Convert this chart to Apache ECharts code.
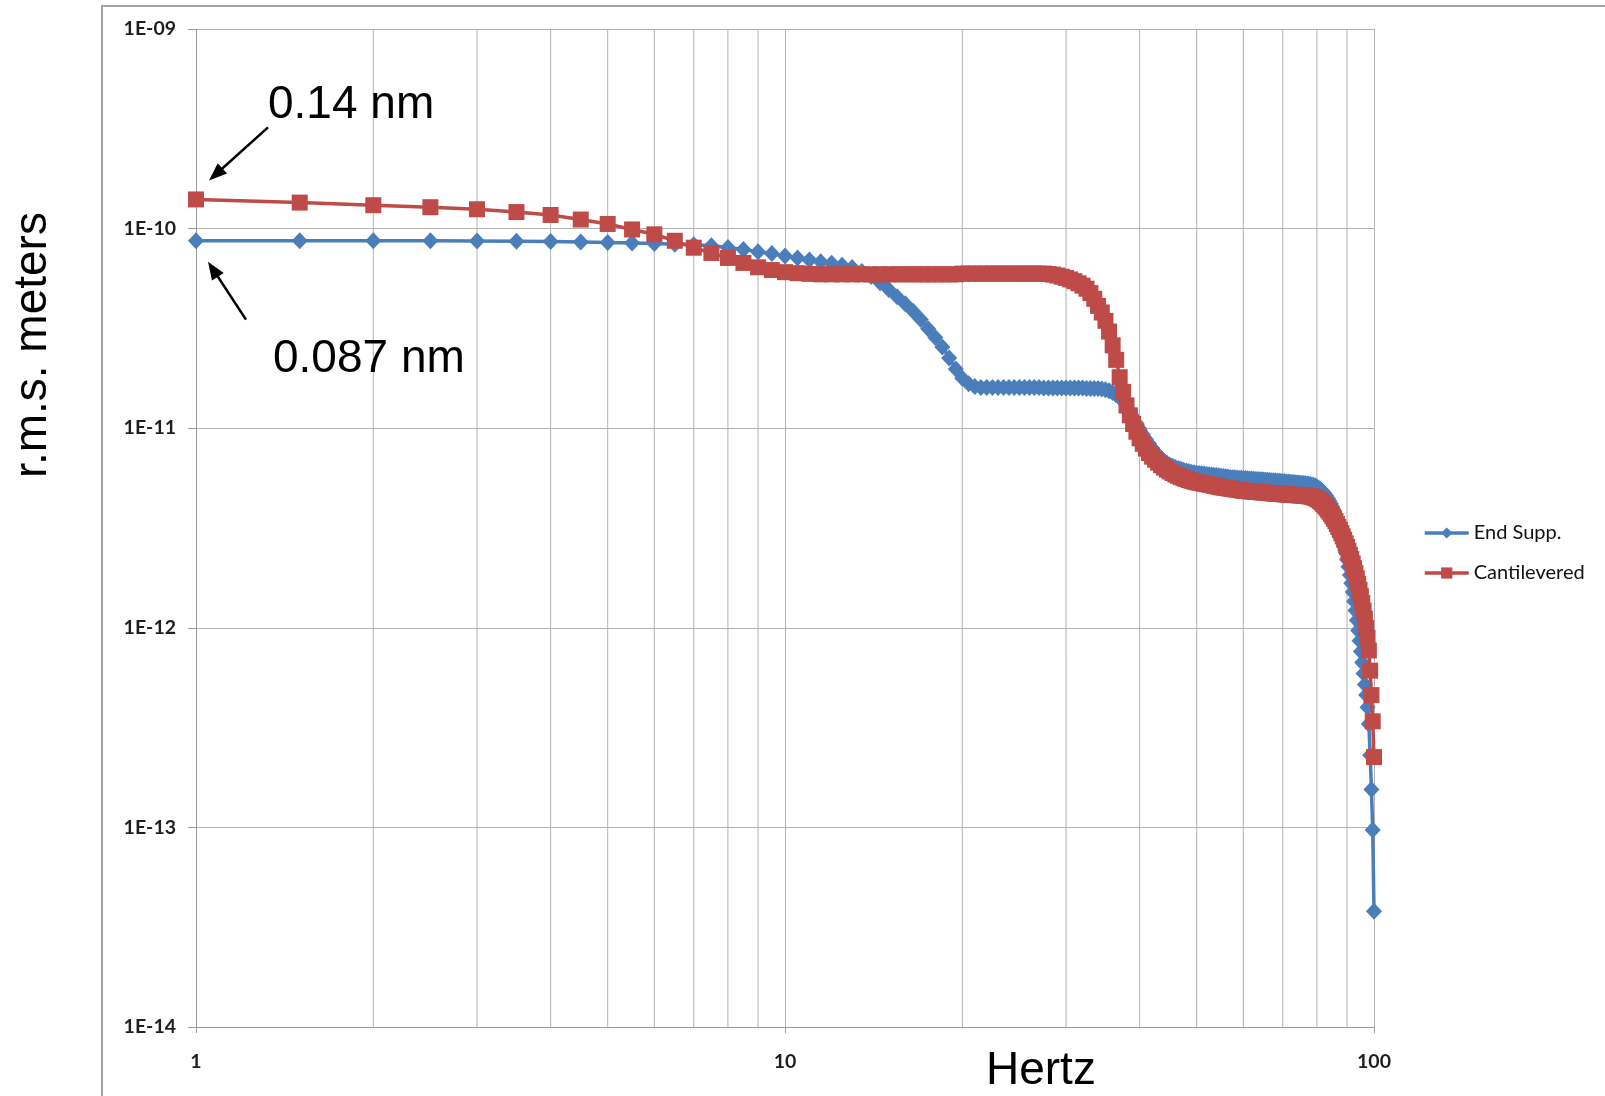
<!DOCTYPE html>
<html>
<head>
<meta charset="utf-8">
<title>r.m.s. displacement vs frequency</title>
<script src="https://cdn.jsdelivr.net/npm/echarts@6/dist/echarts.min.js"></script>
<style>
  html, body { margin: 0; padding: 0; background: #ffffff; }
  #chart { width: 1605px; height: 1096px; }
</style>
</head>
<body>
<div id="chart"></div>
<script>
// Frequency steps (Hz)
const hertz = [
  1, 1.5, 2, 2.5, 3, 3.5, 4, 4.5, 5, 5.5,
  6, 6.5, 7, 7.5, 8, 8.5, 9, 9.5, 10, 10.5,
  11, 11.5, 12, 12.5, 13, 13.5, 14, 14.5, 15, 15.5,
  16, 16.5, 17, 17.5, 18, 18.5, 19, 19.5, 20, 20.5,
  21, 21.5, 22, 22.5, 23, 23.5, 24, 24.5, 25, 25.5,
  26, 26.5, 27, 27.5, 28, 28.5, 29, 29.5, 30, 30.5,
  31, 31.5, 32, 32.5, 33, 33.5, 34, 34.5, 35, 35.5,
  36, 36.5, 37, 37.5, 38, 38.5, 39, 39.5, 40, 40.5,
  41, 41.5, 42, 42.5, 43, 43.5, 44, 44.5, 45, 45.5,
  46, 46.5, 47, 47.5, 48, 48.5, 49, 49.5, 50, 50.5,
  51, 51.5, 52, 52.5, 53, 53.5, 54, 54.5, 55, 55.5,
  56, 56.5, 57, 57.5, 58, 58.5, 59, 59.5, 60, 60.5,
  61, 61.5, 62, 62.5, 63, 63.5, 64, 64.5, 65, 65.5,
  66, 66.5, 67, 67.5, 68, 68.5, 69, 69.5, 70, 70.5,
  71, 71.5, 72, 72.5, 73, 73.5, 74, 74.5, 75, 75.5,
  76, 76.5, 77, 77.5, 78, 78.5, 79, 79.5, 80, 80.5,
  81, 81.5, 82, 82.5, 83, 83.5, 84, 84.5, 85, 85.5,
  86, 86.5, 87, 87.5, 88, 88.5, 89, 89.5, 90, 90.5,
  91, 91.5, 92, 92.5, 93, 93.5, 94, 94.5, 95, 95.5,
  96, 96.5, 97, 97.5, 98, 98.5, 99, 99.5, 100
];

// r.m.s. displacement (m), end-supported beam
const endSupported = [
  8.7e-11, 8.7e-11, 8.7e-11, 8.68e-11, 8.66e-11, 8.64e-11, 8.61e-11, 8.57e-11, 8.52e-11, 8.47e-11,
  8.42e-11, 8.36e-11, 8.3e-11, 8.2e-11, 8.05e-11, 7.85e-11, 7.65e-11, 7.5e-11, 7.3e-11, 7.13e-11,
  6.97e-11, 6.83e-11, 6.7e-11, 6.56e-11, 6.38e-11, 6.1e-11, 5.75e-11, 5.35e-11, 4.95e-11, 4.55e-11,
  4.2e-11, 3.85e-11, 3.5e-11, 3.15e-11, 2.85e-11, 2.55e-11, 2.25e-11, 1.98e-11, 1.78e-11, 1.67e-11,
  1.62e-11, 1.6e-11, 1.6e-11, 1.6e-11, 1.6e-11, 1.6e-11, 1.6e-11, 1.6e-11, 1.6e-11, 1.6e-11,
  1.6e-11, 1.6e-11, 1.6e-11, 1.59e-11, 1.59e-11, 1.59e-11, 1.59e-11, 1.59e-11, 1.59e-11, 1.59e-11,
  1.59e-11, 1.59e-11, 1.59e-11, 1.58e-11, 1.58e-11, 1.58e-11, 1.58e-11, 1.57e-11, 1.56e-11, 1.54e-11,
  1.51e-11, 1.47e-11, 1.42e-11, 1.37e-11, 1.3e-11, 1.22e-11, 1.14e-11, 1.06e-11, 9.9e-12, 9.3e-12,
  8.8e-12, 8.35e-12, 7.95e-12, 7.6e-12, 7.3e-12, 7.05e-12, 6.85e-12, 6.68e-12, 6.55e-12, 6.45e-12,
  6.36e-12, 6.29e-12, 6.22e-12, 6.16e-12, 6.11e-12, 6.06e-12, 6.02e-12, 5.98e-12, 5.95e-12, 5.93e-12,
  5.91e-12, 5.89e-12, 5.87e-12, 5.85e-12, 5.83e-12, 5.81e-12, 5.79e-12, 5.77e-12, 5.75e-12, 5.73e-12,
  5.71e-12, 5.69e-12, 5.67e-12, 5.65e-12, 5.64e-12, 5.63e-12, 5.62e-12, 5.61e-12, 5.6e-12, 5.59e-12,
  5.58e-12, 5.57e-12, 5.56e-12, 5.55e-12, 5.54e-12, 5.53e-12, 5.52e-12, 5.51e-12, 5.5e-12, 5.49e-12,
  5.48e-12, 5.47e-12, 5.46e-12, 5.45e-12, 5.44e-12, 5.43e-12, 5.42e-12, 5.41e-12, 5.4e-12, 5.39e-12,
  5.38e-12, 5.37e-12, 5.36e-12, 5.35e-12, 5.34e-12, 5.33e-12, 5.32e-12, 5.31e-12, 5.3e-12, 5.29e-12,
  5.28e-12, 5.27e-12, 5.26e-12, 5.24e-12, 5.22e-12, 5.2e-12, 5.17e-12, 5.13e-12, 5.08e-12, 5.02e-12,
  4.95e-12, 4.87e-12, 4.78e-12, 4.68e-12, 4.57e-12, 4.45e-12, 4.32e-12, 4.18e-12, 4.03e-12, 3.87e-12,
  3.7e-12, 3.52e-12, 3.34e-12, 3.15e-12, 2.96e-12, 2.77e-12, 2.58e-12, 2.39e-12, 2.2e-12, 2.02e-12,
  1.84e-12, 1.67e-12, 1.51e-12, 1.36e-12, 1.22e-12, 1.09e-12, 9.7e-13, 8.6e-13, 7.6e-13, 6.7e-13,
  5.9e-13, 5.2e-13, 4.6e-13, 4.0e-13, 3.3e-13, 2.3e-13, 1.55e-13, 9.7e-14, 3.8e-14
];

// r.m.s. displacement (m), cantilevered beam
const cantilevered = [
  1.4e-10, 1.35e-10, 1.31e-10, 1.28e-10, 1.25e-10, 1.21e-10, 1.17e-10, 1.11e-10, 1.055e-10, 9.9e-11,
  9.36e-11, 8.69e-11, 8.02e-11, 7.55e-11, 7.13e-11, 6.73e-11, 6.4e-11, 6.2e-11, 6.05e-11, 5.98e-11,
  5.93e-11, 5.9e-11, 5.9e-11, 5.9e-11, 5.9e-11, 5.9e-11, 5.9e-11, 5.9e-11, 5.9e-11, 5.9e-11,
  5.9e-11, 5.9e-11, 5.9e-11, 5.9e-11, 5.9e-11, 5.9e-11, 5.9e-11, 5.9e-11, 5.95e-11, 5.95e-11,
  5.95e-11, 5.95e-11, 5.95e-11, 5.95e-11, 5.95e-11, 5.95e-11, 5.95e-11, 5.95e-11, 5.95e-11, 5.95e-11,
  5.95e-11, 5.95e-11, 5.95e-11, 5.95e-11, 5.92e-11, 5.88e-11, 5.82e-11, 5.74e-11, 5.66e-11, 5.56e-11,
  5.45e-11, 5.32e-11, 5.18e-11, 5.0e-11, 4.75e-11, 4.45e-11, 4.1e-11, 3.8e-11, 3.45e-11, 3.05e-11,
  2.6e-11, 2.2e-11, 1.8e-11, 1.52e-11, 1.3e-11, 1.16e-11, 1.05e-11, 9.6e-12, 8.9e-12, 8.35e-12,
  7.9e-12, 7.5e-12, 7.2e-12, 6.95e-12, 6.72e-12, 6.52e-12, 6.35e-12, 6.2e-12, 6.07e-12, 5.96e-12,
  5.86e-12, 5.77e-12, 5.69e-12, 5.62e-12, 5.56e-12, 5.5e-12, 5.45e-12, 5.4e-12, 5.36e-12, 5.33e-12,
  5.3e-12, 5.27e-12, 5.24e-12, 5.21e-12, 5.18e-12, 5.15e-12, 5.12e-12, 5.09e-12, 5.06e-12, 5.04e-12,
  5.02e-12, 5.0e-12, 4.98e-12, 4.96e-12, 4.94e-12, 4.92e-12, 4.9e-12, 4.88e-12, 4.86e-12, 4.85e-12,
  4.84e-12, 4.83e-12, 4.82e-12, 4.81e-12, 4.8e-12, 4.79e-12, 4.78e-12, 4.77e-12, 4.76e-12, 4.75e-12,
  4.74e-12, 4.73e-12, 4.72e-12, 4.71e-12, 4.7e-12, 4.69e-12, 4.69e-12, 4.68e-12, 4.67e-12, 4.66e-12,
  4.66e-12, 4.65e-12, 4.64e-12, 4.64e-12, 4.63e-12, 4.62e-12, 4.62e-12, 4.61e-12, 4.6e-12, 4.6e-12,
  4.59e-12, 4.58e-12, 4.57e-12, 4.56e-12, 4.55e-12, 4.53e-12, 4.5e-12, 4.47e-12, 4.43e-12, 4.38e-12,
  4.32e-12, 4.25e-12, 4.17e-12, 4.09e-12, 4.0e-12, 3.91e-12, 3.82e-12, 3.72e-12, 3.62e-12, 3.52e-12,
  3.42e-12, 3.31e-12, 3.2e-12, 3.09e-12, 2.98e-12, 2.87e-12, 2.76e-12, 2.65e-12, 2.54e-12, 2.43e-12,
  2.32e-12, 2.21e-12, 2.1e-12, 1.99e-12, 1.88e-12, 1.77e-12, 1.66e-12, 1.55e-12, 1.44e-12, 1.33e-12,
  1.22e-12, 1.11e-12, 1.0e-12, 8.9e-13, 7.7e-13, 6.1e-13, 4.6e-13, 3.4e-13, 2.25e-13
];

const seriesNames = ['End Supp.', 'Cantilevered'];
// In-between gridlines of the logarithmic frequency axis
const minorHertz = [2, 3, 4, 5, 6, 7, 8, 9, 20, 30, 40, 50, 60, 70, 80, 90];
const yAxisTitle = 'r.m.s. meters';
const xAxisTitle = 'Hertz';
const callouts = ['0.14 nm', '0.087 nm'];

const BLUE = '#4a7ebb';
const RED = '#be4b48';
const GRID = '#b2b2b2';
const AXIS = '#9a9a9a';

const chart = echarts.init(document.getElementById('chart'), null, { renderer: 'canvas' });

const pairs = (ys) => ys.map((v, i) => [hertz[i], v]);

const tickFont = { fontFamily: 'Lato', fontWeight: 'bold', fontSize: 19.5, color: '#1e1e1e' };

chart.setOption({
  backgroundColor: '#ffffff',
  animation: false,
  grid: { left: 196, top: 29, width: 1178, height: 998, containLabel: false },
  legend: {
    orient: 'vertical',
    left: 1418,
    top: 518,
    itemWidth: 44,
    itemHeight: 14,
    itemGap: 20,
    data: seriesNames,
    lineStyle: { width: 3.5 },
    textStyle: { fontFamily: 'Lato', fontSize: 20, color: '#111111' }
  },
  xAxis: {
    type: 'log',
    logBase: 10,
    min: 1,
    max: 100,
    axisLine: { show: true, onZero: false, lineStyle: { color: AXIS, width: 1 } },
    axisTick: { show: true, length: 6, lineStyle: { color: AXIS } },
    axisLabel: Object.assign({ margin: 25 }, tickFont),
    splitLine: { show: true, lineStyle: { color: GRID, width: 1 } }
  },
  yAxis: {
    type: 'log',
    logBase: 10,
    min: 1e-14,
    max: 1e-9,
    axisLine: { show: true, onZero: false, lineStyle: { color: AXIS, width: 1 } },
    axisTick: { show: true, length: 8, lineStyle: { color: AXIS } },
    axisLabel: Object.assign({
      margin: 20,
      formatter: (v) => {
        const e = Math.round(Math.log10(v));
        return '1E' + (e < 0 ? '-' : '+') + String(Math.abs(e)).padStart(2, '0');
      }
    }, tickFont),
    splitLine: { show: true, lineStyle: { color: GRID, width: 1 } }
  },
  series: [
    {
      type: 'custom',
      silent: true,
      z: 1,
      data: minorHertz.map((h) => [h, 1e-12]),
      renderItem: (params, api) => {
        const top = api.coord([api.value(0), 1e-9]);
        const bottom = api.coord([api.value(0), 1e-14]);
        return {
          type: 'line',
          shape: { x1: top[0], y1: top[1], x2: bottom[0], y2: bottom[1] },
          style: { stroke: GRID, lineWidth: 1 }
        };
      }
    },
    {
      name: seriesNames[0],
      type: 'line',
      z: 3,
      data: pairs(endSupported),
      symbol: 'diamond',
      symbolSize: [16, 17],
      showAllSymbol: true,
      lineStyle: { color: BLUE, width: 3.5 },
      itemStyle: { color: BLUE }
    },
    {
      name: seriesNames[1],
      type: 'line',
      z: 4,
      data: pairs(cantilevered),
      symbol: 'rect',
      symbolSize: 16,
      showAllSymbol: true,
      lineStyle: { color: RED, width: 3.5 },
      itemStyle: { color: RED }
    }
  ]
});

// Arrow (shaft + filled head) from tail to tip
function arrow(tail, tip) {
  const dx = tip[0] - tail[0], dy = tip[1] - tail[1];
  const len = Math.hypot(dx, dy);
  const ux = dx / len, uy = dy / len;
  const headLen = 18, headHalf = 7;
  const bx = tip[0] - ux * headLen, by = tip[1] - uy * headLen;
  return [
    {
      type: 'line',
      shape: { x1: tail[0], y1: tail[1], x2: bx + ux * 2, y2: by + uy * 2 },
      style: { stroke: '#000', lineWidth: 2.5 },
      z: 10
    },
    {
      type: 'polygon',
      shape: { points: [tip, [bx - uy * headHalf, by + ux * headHalf], [bx + uy * headHalf, by - ux * headHalf]] },
      style: { fill: '#000' },
      z: 10
    }
  ];
}

const redStart = chart.convertToPixel({ gridIndex: 0 }, [hertz[0], cantilevered[0]]);
const blueStart = chart.convertToPixel({ gridIndex: 0 }, [hertz[0], endSupported[0]]);

const bigText = { fontFamily: 'Liberation Sans', fontSize: 46, fill: '#000' };

chart.setOption({
  graphic: [
    {
      type: 'rect',
      shape: { x: 102, y: 6, width: 1600, height: 1200 },
      style: { fill: 'none', stroke: '#a3a3a3', lineWidth: 2 },
      silent: true,
      z: -1
    },
    {
      type: 'text',
      x: 33, y: 345,
      rotation: Math.PI / 2,
      style: Object.assign({ text: yAxisTitle, align: 'center', verticalAlign: 'middle' }, bigText)
    },
    {
      type: 'text',
      x: 986, y: 1071,
      style: Object.assign({ text: xAxisTitle, align: 'left', verticalAlign: 'middle' }, bigText)
    },
    {
      type: 'text',
      x: redStart[0] + 72, y: redStart[1] - 94,
      style: Object.assign({ text: callouts[0], align: 'left', verticalAlign: 'middle' }, bigText),
      z: 10
    },
    {
      type: 'text',
      x: blueStart[0] + 77, y: blueStart[1] + 119,
      style: Object.assign({ text: callouts[1], align: 'left', verticalAlign: 'middle' }, bigText),
      z: 10
    }
  ].concat(
    arrow([redStart[0] + 72, redStart[1] - 72], [redStart[0] + 13, redStart[1] - 19]),
    arrow([blueStart[0] + 50, blueStart[1] + 79], [blueStart[0] + 12, blueStart[1] + 21])
  )
});
</script>
</body>
</html>
